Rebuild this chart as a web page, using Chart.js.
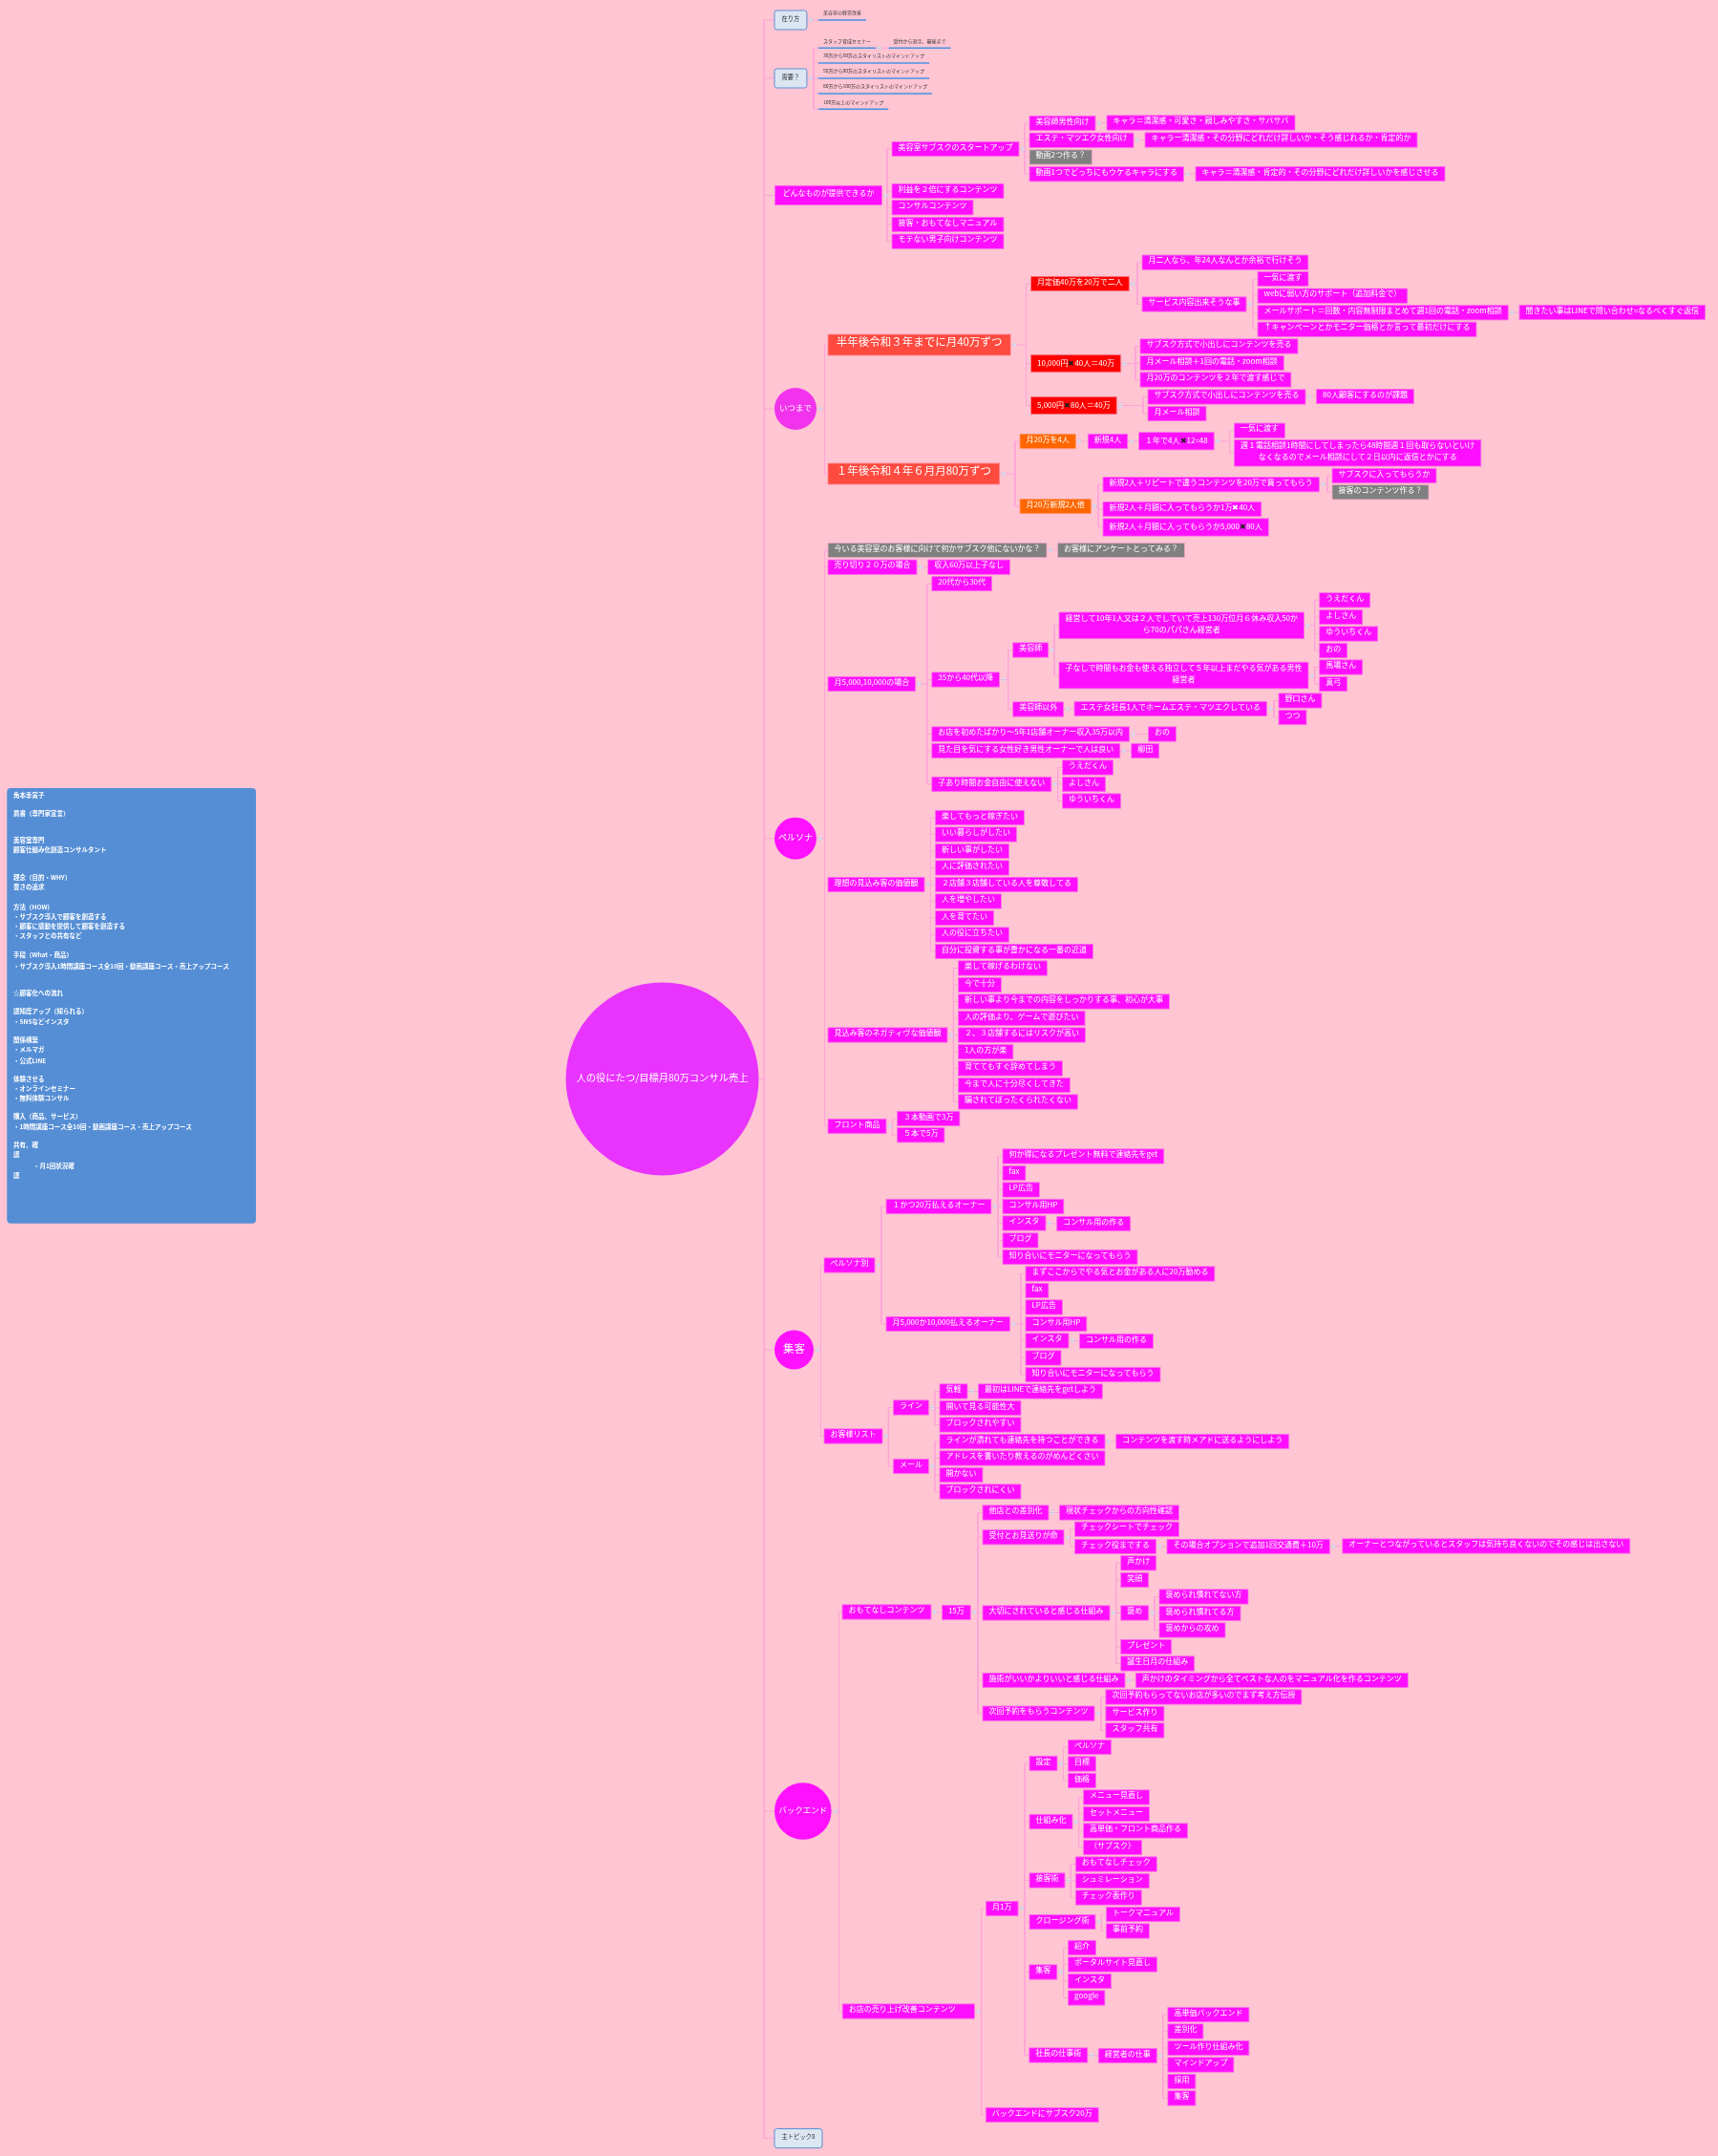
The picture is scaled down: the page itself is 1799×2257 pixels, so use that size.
<!DOCTYPE html>
<html>
<head>
<meta charset="utf-8">
<style>
html,body{margin:0;padding:0;background:#FFC5D3;}
canvas{display:block;}
</style>
<script src="https://cdn.jsdelivr.net/npm/chart.js@4"></script>
</head>
<body>
<canvas id="map" width="1799" height="2257"></canvas>
<script>
// mind map nodes in tree order: depth gives the parent
const nodeLabels=[
'人の役にたつ/目標月80万コンサル売上',
'在り方','美容室の経営改善','需要？','スタッフ育成セミナー','受付から退寺、最後まで','30万から50万のスタイリストのマインドアップ','50万から80万のスタイリストのマインドアップ','80万から100万のスタイリストのマインドアップ','100万以上のマインドアップ',
'どんなものが提供できるか','美容室サブスクのスタートアップ','美容師男性向け','キャラ＝清潔感・可愛さ・親しみやすさ・サバサバ','エステ・マツエク女性向け','キャラー清潔感・その分野にどれだけ詳しいか・そう感じれるか・肯定的か','動画2つ作る？','動画1つでどっちにもウケるキャラにする','キャラ＝清潔感・肯定的・その分野にどれだけ詳しいかを感じさせる','利益を２倍にするコンテンツ','コンサルコンテンツ','接客・おもてなしマニュアル','モテない男子向けコンテンツ',
'いつまで','半年後令和３年までに月40万ずつ','月定価40万を20万で二人','月二人なら、年24人なんとか余裕で行けそう','サービス内容出来そうな事','一気に渡す','webに弱い方のサポート（追加料金で）','メールサポート＝回数・内容無制限まとめて週1回の電話・zoom相談','聞きたい事はLINEで問い合わせ=なるべくすぐ返信','↑キャンペーンとかモニター価格とか言って最初だけにする','10,000円✖️40人＝40万','サブスク方式で小出しにコンテンツを売る','月メール相談＋1回の電話・zoom相談','月20万のコンテンツを２年で渡す感じで','5,000円✖️80人＝40万','サブスク方式で小出しにコンテンツを売る','80人顧客にするのが課題','月メール相談',
'１年後令和４年６月月80万ずつ','月20万を4人','新規4人','１年で4人✖️12=48','一気に渡す','週１電話相談1時間にしてしまったら48時間週１回も取らないといけ\nなくなるのでメール相談にして２日以内に返信とかにする','月20万新規2人他','新規2人＋リピートで違うコンテンツを20万で買ってもらう','サブスクに入ってもらうか','接客のコンテンツ作る？','新規2人＋月額に入ってもらうか1万✖40人','新規2人＋月額に入ってもらうか5,000✖️80人',
'ペルソナ','今いる美容室のお客様に向けて何かサブスク他にないかな？','お客様にアンケートとってみる？','売り切り２０万の場合','収入60万以上子なし','月5,000,10,000の場合','20代から30代','35から40代以降','美容師','経営して10年1人又は２人でしていて売上130万位月６休み収入50か\nら70のパパさん経営者','うえだくん','よしさん','ゆういちくん','おの','子なしで時間もお金も使える独立して５年以上まだやる気がある男性\n経営者','馬場さん','真弓','美容師以外','エステ女社長1人でホームエステ・マツエクしている','野口さん','つつ','お店を初めたばかり〜5年1店舗オーナー収入35万以内','おの','見た目を気にする女性好き男性オーナーで人は良い','柳田','子あり時間お金自由に使えない','うえだくん','よしさん','ゆういちくん',
'理想の見込み客の価値観','楽してもっと稼ぎたい','いい暮らしがしたい','新しい事がしたい','人に評価されたい','２店舗３店舗している人を尊敬してる','人を増やしたい','人を育てたい','人の役に立ちたい','自分に投資する事が豊かになる一番の近道',
'見込み客のネガティヴな価値観','楽して稼げるわけない','今で十分','新しい事より今までの内容をしっかりする事、初心が大事','人の評価より、ゲームで遊びたい','２、３店舗するにはリスクが高い','1人の方が楽','育ててもすぐ辞めてしまう','今まで人に十分尽くしてきた','騙されてぼったくられたくない',
'フロント商品','３本動画で3万','５本で5万',
'集客','ペルソナ別','１かつ20万払えるオーナー','何か得になるプレゼント無料で連絡先をget','fax','LP広告','コンサル用HP','インスタ','コンサル用の作る','ブログ','知り合いにモニターになってもらう','月5,000か10,000払えるオーナー','まずここからでやる気とお金がある人に20万勧める','fax','LP広告','コンサル用HP','インスタ','コンサル用の作る','ブログ','知り合いにモニターになってもらう',
'お客様リスト','ライン','気軽','最初はLINEで連絡先をgetしよう','開いて見る可能性大','ブロックされやすい','メール','ラインが潰れても連絡先を持つことができる','コンテンツを渡す時メアドに送るようにしよう','アドレスを書いたり教えるのがめんどくさい','開かない','ブロックされにくい',
'バックエンド','おもてなしコンテンツ','15万','他店との差別化','現状チェックからの方向性確認','受付とお見送りが命','チェックシートでチェック','チェック役までする','その場合オプションで追加1回交通費＋10万','オーナーとつながっているとスタッフは気持ち良くないのでその感じは出さない','大切にされていると感じる仕組み','声かけ','笑顔','褒め','褒められ慣れてない方','褒められ慣れてる方','褒めからの攻め','プレゼント','誕生日月の仕組み','施術がいいかよりいいと感じる仕組み','声かけのタイミングから全てベストな人のをマニュアル化を作るコンテンツ','次回予約をもらうコンテンツ','次回予約もらってないお店が多いのでまず考え方伝授','サービス作り','スタッフ共有',
'お店の売り上げ改善コンテンツ　   ','月1万','設定','ペルソナ','目標','価格','仕組み化','メニュー見直し','セットメニュー','高単価・フロント商品作る','（サブスク）','接客術','おもてなしチェック','シュミレーション','チェック表作り','クロージング術','トークマニュアル','事前予約','集客','紹介','ポータルサイト見直し','インスタ','google','社長の仕事術','経営者の仕事','高単価バックエンド','差別化','ツール作り仕組み化','マインドアップ','採用','集客','バックエンドにサブスク20万',
'主トピック8'
];
const nodeDepths=[
0,
1,2,1,2,3,2,2,2,2,
1,2,3,4,3,4,3,3,4,2,2,2,2,
1,2,3,4,4,5,5,5,6,5,3,4,4,4,3,4,5,4,
2,3,4,5,6,6,3,4,5,5,4,4,
1,2,3,2,3,2,3,3,4,5,6,6,6,6,5,6,6,4,5,6,6,3,4,3,4,3,4,4,4,
2,3,3,3,3,3,3,3,3,3,
2,3,3,3,3,3,3,3,3,3,
2,3,3,
1,2,3,4,4,4,4,4,5,4,4,3,4,4,4,4,4,5,4,4,
2,3,4,5,4,4,3,4,5,4,4,4,
1,2,3,4,5,4,5,5,6,7,4,5,5,5,6,6,6,5,5,4,5,4,5,5,5,
2,3,4,5,5,5,4,5,5,5,5,4,5,5,5,4,5,5,4,5,5,5,5,4,5,6,6,6,6,6,6,3,
1
];
const nodeKinds=[
'c',
't','u','t','u','u','u','u','u','u',
'M','m','m','m','m','m','g','m','m','m','m','m','m',
'c','b','r','m','m','m','m','m','m','m','r','m','m','m','r','m','m','m',
'b','o','m','m','m','m','o','m','m','g','m','m',
'c','g','g','m','m','m','m','m','m','m','m','m','m','m','m','m','m','m','m','m','m','m','m','m','m','m','m','m','m',
'm','m','m','m','m','m','m','m','m','m',
'm','m','m','m','m','m','m','m','m','m',
'm','m','m',
'c','m','m','m','m','m','m','m','m','m','m','m','m','m','m','m','m','m','m','m',
'm','m','m','m','m','m','m','m','m','m','m','m',
'c','m','m','m','m','m','m','m','m','m','m','m','m','m','m','m','m','m','m','m','m','m','m','m','m',
'm','m','m','m','m','m','m','m','m','m','m','m','m','m','m','m','m','m','m','m','m','m','m','m','m','m','m','m','m','m','m','m',
't'
];
// left edge of every node
const nodeX=[
592.5,
811,857,811,857,930.5,857,857,857,857,
811.5,934,1078,1159,1078,1199,1078,1078,1252,934,934,934,934,
811,867,1079.5,1196,1196,1317,1317,1317,1591,1317,1079.5,1194,1194,1194,1079.5,1202,1378.5,1202,
867,1068,1139.3,1192.6,1292.5,1292.5,1068,1155,1395,1395,1155,1155,
811,867,1107.6,867,971.7,867,975.8,975.8,1060.7,1109,1381.7,1381.7,1381.7,1381.7,1109,1381.7,1381.7,1060.7,1125,1339,1339,975.8,1202.6,975.8,1184.7,975.8,1112.6,1112.6,1112.6,
867,979.5,979.5,979.5,979.5,979.5,979.5,979.5,979.5,979.5,
867,1003.4,1003.4,1003.4,1003.4,1003.4,1003.4,1003.4,1003.4,1003.4,
867,939.5,939.5,
811,863,928,1050,1050,1050,1050,1050,1106.7,1050,1050,928,1074,1074,1074,1074,1074,1130.5,1074,1074,
863,935.4,984,1024.5,984,984,935.4,984,1168.7,984,984,984,
811,882,986.4,1029,1109.4,1029,1125.5,1125.5,1222,1405.8,1029,1173.7,1173.7,1173.7,1214,1214,1214,1173.7,1173.7,1029,1189.3,1029,1157.9,1157.9,1157.9,
882.2,1032.6,1078,1118.5,1118.5,1118.5,1078,1134.6,1134.6,1134.6,1134.6,1078,1126.3,1126.3,1126.3,1078,1158.4,1158.4,1077.8,1118.6,1118.6,1118.6,1118.6,1077.8,1150.3,1222.9,1222.9,1222.9,1222.9,1222.9,1222.9,1032.3,
811
];
// vertical middle of every node (underline height for the small text nodes)
const nodeY=[
1129.4,
21,21,82,50.3,50.3,66,82,98,114.3,
204.5,156,129,128.5,146.8,146.5,164.5,182.3,182,200,217.3,235,252.7,
428,361,297,274.7,318.5,292,309.7,327.3,327,344.8,380.5,362.5,380,397.5,424.5,415.5,415,433,
496,462,462,461.8,450.7,474.2,530,507.2,498,515.3,533,552,
877.7,576,576,593.7,593.7,716,611,711.5,680.5,654.8,628.3,646,663.5,681,707,698.5,716,742.5,742,733.5,751,768.5,768.5,786,786,821,803.5,821,838.5,
926,856,873.5,891,908.5,926,943.5,961,978.5,996,
1083.5,1013.5,1031,1048.5,1066,1083.5,1101,1118.5,1136,1153.5,
1179,1171,1188.3,
1413,1324.5,1263,1210.5,1228,1245.5,1263,1280.5,1281,1298.5,1316,1386,1333.5,1351,1368.5,1386,1403.5,1404,1421.5,1439,
1503.5,1473.5,1456.5,1456.5,1474,1491.5,1535,1509,1509,1526.5,1544,1561.5,
1896,1687.5,1688,1583.5,1583.5,1609.3,1600.8,1619,1619,1618.5,1688.5,1636.3,1654,1688.5,1671.5,1689,1706.5,1724,1741.5,1759,1759,1793.7,1776.5,1794,1811.5,
2105.5,1998,1846,1829,1846.5,1864,1907,1881.5,1899,1916.5,1934,1968.5,1951.5,1969,1986.5,2012,2004,2021.5,2064.5,2039,2056.5,2074,2091.5,2151.5,2152,2109,2126.5,2144,2161.5,2179,2196.5,2214,
2238.5
];
// circles, in tree order
const hubRadius=[101,22,22,20.5,29.8];
const hubFontSize=[10.3,8.5,9,11.5,8.5];
const hubColors=['#E933FF','#F233EE','#FF10FF','#FF10FF','#FF10FF'];

// note panel on the left
const noteLines=['角本季寅子','肩書（専門家宣言）','美容室専門','顧客仕組み化創造コンサルタント','理念（目的・WHY）','豊さの追求','方法（HOW）','・サブスク導入で顧客を創造する','・顧客に感動を提供して顧客を創造する','・スタッフとの共有など','手段（What・商品）','・サブスク導入1時間講座コース全10回・動画講座コース・売上アップコース','☆顧客化への流れ','認知度アップ（知られる）','・SNSなどインスタ','関係構築','・メルマガ','・公式LINE','体験させる','・オンラインセミナー','・無料体験コンサル','購入（商品、サービス）','・1時間講座コース全10回・動画講座コース・売上アップコース','共有、確','認','・月1回状況確','認'];
const noteLineY=[832.7,851.7,879.3,889.3,919,929,949.3,959.3,969.3,979.3,1000,1011.7,1039.3,1058.7,1070,1089,1099,1110.7,1129.3,1139.3,1149.3,1168.3,1180,1199,1209,1220.7,1230.7];
const noteLineX=[14,14,14,14,14,14,14,14,14,14,14,14,14,14,14,14,14,14,14,14,14,14,14,14,14,35,14];

const FONT='"Noto Sans CJK JP","Noto Sans",sans-serif';
const kindStyle={
  m:{fill:'#FF0FFF',edge:'#FF73E6',size:8,pad:6.5,h:15.3,lift:10},
  g:{fill:'#808080',edge:'#F5A8C8',size:8,pad:6.5,h:15.3,lift:10},
  r:{fill:'#FF0000',edge:'#F08090',size:8,pad:6.5,h:15.3,lift:10},
  o:{fill:'#FF6600',edge:'#FF9A70',size:8,pad:6.5,h:15.3,lift:10},
  M:{fill:'#FF0FFF',edge:'#FF73E6',size:8,pad:8,h:20.4,lift:12.7},
  b:{fill:'#FF4A40',edge:'#FF8A90',size:11.5,pad:8.7,h:22,lift:14.3},
  t:{fill:'#DCE6F2',edge:'#5B8FD0',size:6.3,pad:7.5,h:20,lift:0},
  u:{size:5,pad:5}
};
const CROSS='✖️';

const canvas=document.getElementById('map');
const mctx=canvas.getContext('2d');

function runsOf(line){
  const out=[];
  line.split(CROSS).forEach((part,i)=>{
    if(i>0) out.push({t:'✖',dark:true});
    if(part) out.push({t:part,dark:false});
  });
  return out;
}
function lineWidth(line,size,ctx){
  ctx.font=size+'px '+FONT;
  return runsOf(line).reduce((w,r)=>w+ctx.measureText(r.t).width,0);
}
function drawLine(ctx,line,x,y,size,color){
  ctx.font=size+'px '+FONT;
  ctx.textAlign='left';
  ctx.textBaseline='middle';
  runsOf(line).forEach(r=>{
    ctx.fillStyle=r.dark?'#222222':color;
    ctx.fillText(r.t,x,y);
    x+=ctx.measureText(r.t).width;
  });
}

// box sizes follow from the text
const hubByNode={};
let hubCount=0;
nodeKinds.forEach((k,i)=>{ if(k==='c') hubByNode[i]=hubCount++; });
const nodeWidth=nodeLabels.map((label,i)=>{
  const k=nodeKinds[i];
  if(k==='c') return hubRadius[hubByNode[i]]*2;
  const st=kindStyle[k];
  const w=Math.max(...label.split('\n').map(l=>lineWidth(l,st.size,mctx)));
  return w+st.pad*2;
});
const nodeHeight=nodeLabels.map((label,i)=>{
  const k=nodeKinds[i];
  if(k==='c'||k==='u') return 0;
  const lines=label.split('\n').length;
  if(lines>1) return lines*12.3+3.1;
  if(k==='t') return kindStyle.t.h;
  return label.includes(CROSS)?kindStyle[k].h+3:kindStyle[k].h;
});

// connectors: parent -> spine -> child, null breaks the line
const linkPoints=[];
const parentDots=[];
const TRUNK_X=800.3;
function addSeg(x0,y0,x1,y1){
  linkPoints.push({x:x0,y:y0},{x:x1,y:y1},{x:null,y:null});
}
const stack=[];
const kids=nodeLabels.map(()=>[]);
nodeDepths.forEach((d,i)=>{
  stack[d]=i;
  if(d>0) kids[stack[d-1]].push(i);
});
kids.forEach((list,p)=>{
  if(!list.length) return;
  const right=nodeX[p]+nodeWidth[p];
  const left=nodeX[list[0]];
  const y=nodeY[p];
  if(p>0) parentDots.push({x:right+4,y:y});
  let spine=left-5;
  if(p===0) spine=TRUNK_X;
  else if(nodeKinds[p]==='c') spine=left-3.5;
  addSeg(right,y,spine,y);
  const ys=list.map(c=>nodeY[c]).concat([y]);
  addSeg(spine,Math.min(...ys),spine,Math.max(...ys));
  list.forEach(c=>addSeg(spine,nodeY[c],nodeX[c],nodeY[c]));
});

const hubPoints=nodeKinds.map((k,i)=>k==='c'?{x:nodeX[i]+hubRadius[hubByNode[i]],y:nodeY[i],r:hubRadius[hubByNode[i]]}:null).filter(Boolean);

function roundBox(ctx,x,y,w,h,r){
  ctx.beginPath();
  ctx.roundRect(x,y,w,h,r);
}

const nodeLayer={
  id:'nodeLayer',
  afterDatasetsDraw(chart){
    const ctx=chart.ctx;
    const xs=chart.scales.x, ys=chart.scales.y;
    ctx.save();
    // note panel
    roundBox(ctx,xs.getPixelForValue(7.3),ys.getPixelForValue(825),260.7,455.7,4);
    ctx.fillStyle='#558ED5';
    ctx.fill();
    ctx.font='bold 6.5px '+FONT;
    ctx.fillStyle='#FFFFFF';
    ctx.textAlign='left';
    ctx.textBaseline='middle';
    noteLines.forEach((l,i)=>ctx.fillText(l,xs.getPixelForValue(noteLineX[i]),ys.getPixelForValue(noteLineY[i])));

    const pts=chart.getDatasetMeta(0).data;
    nodeLabels.forEach((label,i)=>{
      const k=nodeKinds[i], x=pts[i].x, y=pts[i].y;
      if(k==='c'){
        const size=hubFontSize[hubByNode[i]];
        const w=lineWidth(label,size,ctx);
        drawLine(ctx,label,x+hubRadius[hubByNode[i]]-w/2,y-1,size,'#FFFFFF');
        return;
      }
      const st=kindStyle[k], w=nodeWidth[i], h=nodeHeight[i];
      if(k==='u'){
        drawLine(ctx,label,x+st.pad,y-7.7,st.size,'#333333');
        ctx.strokeStyle='#4A90E2';
        ctx.lineWidth=1.4;
        ctx.beginPath();ctx.moveTo(x,y);ctx.lineTo(x+w,y);ctx.stroke();
        return;
      }
      const top=y-h/2;
      if(k==='t'){
        roundBox(ctx,x,top,w,h,2.5);
        ctx.fillStyle=st.fill;ctx.fill();
        ctx.strokeStyle=st.edge;ctx.lineWidth=1;ctx.stroke();
        drawLine(ctx,label,x+st.pad,y-1.5,st.size,'#333333');
        return;
      }
      ctx.fillStyle=st.fill;
      ctx.fillRect(x,top,w,h);
      ctx.strokeStyle=st.edge;
      ctx.lineWidth=0.8;
      ctx.strokeRect(x,top,w,h);
      const lines=label.split('\n');
      if(lines.length>1){
        lines.forEach((l,n)=>{
          const lw=lineWidth(l,st.size,ctx);
          drawLine(ctx,l,x+(w-lw)/2,top+5.7+n*12.3,st.size,'#FFFFFF');
        });
      }else{
        drawLine(ctx,label,x+st.pad,top+h-st.lift,st.size,'#FFFFFF');
      }
    });
    ctx.restore();
  }
};

new Chart(canvas,{
  type:'scatter',
  data:{datasets:[
    {label:'nodes',data:nodeX.map((x,i)=>({x,y:nodeY[i]})),pointRadius:0,showLine:false,order:5},
    {label:'links',data:linkPoints,showLine:true,spanGaps:false,borderColor:'#FFA3D8',borderWidth:1,pointRadius:0,order:4},
    {label:'hubs',type:'bubble',data:hubPoints,backgroundColor:hubColors,borderWidth:0,order:3},
    {label:'dots',data:parentDots,pointStyle:'circle',pointRadius:1.8,backgroundColor:'#FFF4F8',borderColor:'#A9BFE3',borderWidth:0.5,showLine:false,order:2},
    {label:'dot dash',data:parentDots,pointStyle:'line',pointRadius:1,borderColor:'#7F9CCB',borderWidth:0.6,showLine:false,order:1}
  ]},
  options:{
    responsive:false,
    animation:false,
    devicePixelRatio:1,
    events:[],
    layout:{padding:0,autoPadding:false},
    clip:false,
    plugins:{legend:{display:false},tooltip:{enabled:false}},
    scales:{
      x:{type:'linear',min:0,max:1799,display:false},
      y:{type:'linear',min:0,max:2257,reverse:true,display:false}
    }
  },
  plugins:[nodeLayer]
});
</script>
</body>
</html>
